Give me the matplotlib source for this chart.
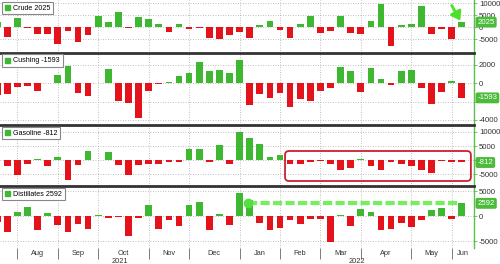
import numpy as np
import pandas as pd
import matplotlib
matplotlib.use('Agg')
import matplotlib.pyplot as plt
from matplotlib.patches import FancyBboxPatch
from matplotlib.lines import Line2D
from matplotlib.transforms import IdentityTransform, blended_transform_factory

plt.rcParams['font.family'] = ['Liberation Sans', 'DejaVu Sans']

# weekly inventory changes (thousand barrels), first bar is cut off at the left edge
dates = pd.date_range('2021-07-23', periods=47, freq='W-FRI')

crude = [2000, -4100, 3700, -400, -3000, -2900, -7200, -1500, -6400, -3500,
         4600, 2200, 6100, -300, 4300, 3400, 1100, -2200, 1100, -1000,
         -300, -4400, -4800, -3300, -2100, -4500, 700, 2300, -1100, -4700,
         1300, 4600, -2500, -1800, 4500, -2400, -3100, 2500, 9400, -8100,
         900, 1300, 8600, -3100, -800, -4900, 2025]
cushing = [-1270, -1160, -440, -290, -870, 50, 870, 1890, -1020, -1350,
           80, 1530, -1890, -2180, -3750, -800, -30, 100, 800, 1160,
           2360, 1310, 1450, 1090, 2580, -2350, -1160, -1640, -1050, -2620,
           -1740, -1930, -870, -470, 1820, 1310, -910, 1670, 510, -150,
           1340, 1420, -510, -2250, -980, 250, -1593]
gasoline = [0, -2100, -5200, -1200, 600, -2100, 1200, -6900, -1800, 3200,
            100, 2900, -1800, -5400, -1800, -1400, -1400, -600, -600, 3900,
            3900, -600, 5300, -1200, 10000, 7900, 5600, 1100, 2000, -1400,
            -1200, -500, -300, -1200, -3400, -2800, 500, -1900, -3400, -500,
            -1200, -2200, -3300, -4600, -400, -500, -812]
distillates = [-1200, -3100, 870, 1870, -2670, 670, -1730, -3130, -1600, -2530,
               270, -330, -50, -3870, -330, 2270, -2600, -730, -1930, 2270,
               2800, -2800, 400, -1730, 4600, 3270, -1400, -2800, -2330, -800,
               -1470, -530, -530, -5200, 330, -1930, 1470, 870, -2800, -2530,
               -1330, -2200, -800, 1270, 1730, -470, 2592]

names = ['Crude', 'Cushing', 'Gasoline', 'Distillates']
series = [crude, cushing, gasoline, distillates]
ylims = [(-10625, 11250), (-4557, 3366), (-9117, 12438), (-6340, 6060)]
yticks = [[-5000, 0, 5000, 10000], [-4000, -2000, 0, 2000],
          [-5000, 0, 5000, 10000], [-5000, 0, 5000]]
# tick labels covered by the last-value tag in the reference
hidden = [[], [-2000], [0], []]

GREEN = '#3fb831'
RED = '#e3121b'
TAG = '#4cbb3c'
AXIS_GREEN = '#5cbf4a'

pos = np.arange(len(dates))
month_starts = [i for i in range(1, len(dates)) if dates[i].month != dates[i - 1].month]
xmin, xmax = 0.28, 47.21

fig = plt.figure(figsize=(5, 2.64), dpi=100)
W, H = 500, 264
edges = [0, 52.5, 125, 186, 248]
axes = []
for n, (name, vals) in enumerate(zip(names, series)):
    top, bot = edges[n], edges[n + 1]
    ax = fig.add_axes([0, (H - bot) / H, 474 / W, (bot - top) / H])
    axes.append(ax)
    vals = np.array(vals)
    cols = [GREEN if v > 0 else RED for v in vals]
    ax.bar(pos, vals, width=0.66, color=cols, zorder=3)
    ax.set_xlim(xmin, xmax)
    ax.set_ylim(*ylims[n])
    ax.set_yticks(yticks[n])
    ax.set_yticklabels(['' if t in hidden[n] else str(t) for t in yticks[n]])
    ax.yaxis.tick_right()
    ax.tick_params(axis='y', labelsize=5.6, colors=AXIS_GREEN, labelcolor='#333333',
                   length=2, width=0.6, pad=1.5)
    ax.set_xticks(month_starts)
    ax.grid(True, linestyle=(0, (1, 2)), color='#aaaaaa', lw=0.6, zorder=0)
    for side in ['left', 'bottom', 'top']:
        ax.spines[side].set_visible(False)
    ax.spines['right'].set_color(AXIS_GREEN)
    ax.spines['right'].set_linewidth(1)
    if n > 0:
        ax.spines['top'].set_visible(True)
        ax.spines['top'].set_color('#333333')
        ax.spines['top'].set_linewidth(2)
    if n < 3:
        ax.tick_params(axis='x', length=0, labelbottom=False)
    else:
        ax.tick_params(axis='x', length=8, width=0.6, colors='#666666', labelbottom=False)

    last = vals[-1]
    handle = Line2D([], [], marker='s', ls='', color=GREEN, markersize=3.6)
    leg = ax.legend([handle], [f'{name} {last}'], loc='upper left', bbox_to_anchor=(0, 1),
                    borderaxespad=0.25, fancybox=False, edgecolor='#888888', framealpha=1,
                    fontsize=5.1, handlelength=0.8, handletextpad=0.4, borderpad=0.4)
    leg.get_frame().set_linewidth(0.8)
    leg.set_zorder(6)

    tr = blended_transform_factory(ax.transAxes, ax.transData)
    ax.annotate(f'{last}', xy=(1, last), xycoords=tr, xytext=(2.5, 0),
                textcoords='offset points', ha='left', va='center', color='white',
                fontsize=5.6, annotation_clip=False, zorder=7,
                bbox=dict(boxstyle='round,pad=0.25', fc=TAG, ec='none'))

# month and year labels under the bottom panel
ax4 = axes[3]
bt = blended_transform_factory(ax4.transData, ax4.transAxes)
bounds = month_starts + [xmax]
for a, b in zip(bounds[:-1], bounds[1:]):
    ax4.text((a + b) / 2, -0.095, dates[a].strftime('%b'), transform=bt,
             ha='center', va='center', fontsize=5.3, color='#333333')
jan = [i for i in month_starts if dates[i].month == 1][0]
ax4.text((xmin + jan) / 2, -0.215, '2021', transform=bt, ha='center', va='center',
         fontsize=5.3, color='#333333')
ax4.text((jan + xmax) / 2, -0.215, '2022', transform=bt, ha='center', va='center',
         fontsize=5.3, color='#333333')

# annotations
axes[0].annotate('', xy=(45.85, 2700), xytext=(45.0, 9000),
                 arrowprops=dict(arrowstyle='-|>,head_length=0.5,head_width=0.35',
                                 color='#4de02a', lw=2, shrinkA=0, shrinkB=0), zorder=8)

ax4.plot([24.8, 45.5], [2592, 2592], color='#66ee4e', lw=3, dashes=(2.2, 0.8),
         alpha=0.9, solid_capstyle='butt', zorder=5)
ax4.plot([24.8], [2592], 'o', ms=6, color='#55e040', zorder=5)

ax3 = axes[2]
x0, y0 = ax3.transData.transform((28.5, -7350))
x1, y1 = ax3.transData.transform((46.9, 3250))
box = FancyBboxPatch((x0, y0), x1 - x0, y1 - y0, boxstyle='round,pad=0,rounding_size=4',
                     transform=IdentityTransform(), fill=False, ec='#cc2030', lw=1.3,
                     clip_on=False, zorder=8)
fig.patches.append(box)
box.set_figure(fig)

fig.savefig('out.png', dpi=100)
